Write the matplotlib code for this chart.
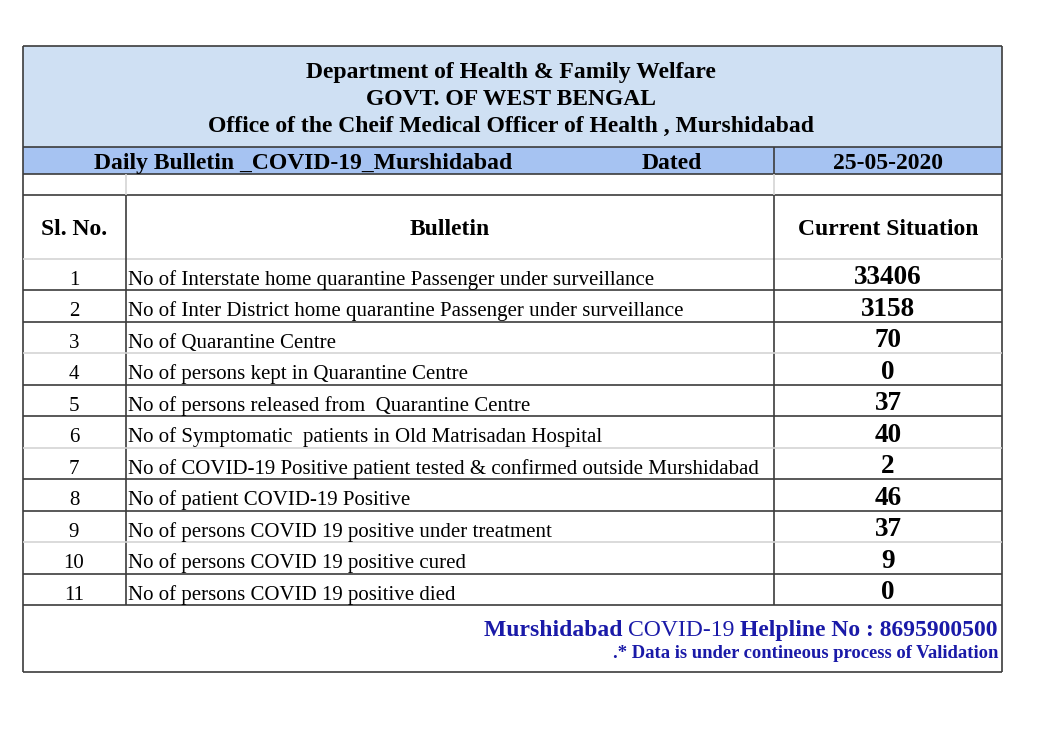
import matplotlib
matplotlib.use("Agg")
import matplotlib.pyplot as plt
from matplotlib.patches import Rectangle

plt.rcParams['font.family'] = ['Liberation Serif', 'DejaVu Serif']

title_lines = ["Department of Health & Family Welfare",
               "GOVT. OF WEST BENGAL",
               "Office of the Cheif Medical Officer of Health , Murshidabad"]
band_left = "Daily Bulletin _COVID-19_Murshidabad"
band_mid = "Dated"
band_date = "25-05-2020"
col_headers = ["Sl. No.", "Bulletin", "Current Situation"]

sl_no = [1, 2, 3, 4, 5, 6, 7, 8, 9, 10, 11]
bulletin = [
    "No of Interstate home quarantine Passenger under surveillance",
    "No of Inter District home quarantine Passenger under surveillance",
    "No of Quarantine Centre",
    "No of persons kept in Quarantine Centre",
    "No of persons released from  Quarantine Centre",
    "No of Symptomatic  patients in Old Matrisadan Hospital",
    "No of COVID-19 Positive patient tested & confirmed outside Murshidabad",
    "No of patient COVID-19 Positive",
    "No of persons COVID 19 positive under treatment",
    "No of persons COVID 19 positive cured",
    "No of persons COVID 19 positive died",
]
current = [33406, 3158, 70, 0, 37, 40, 2, 46, 37, 9, 0]

helpline = [("Murshidabad ", "bold"), ("COVID-19 ", "normal"),
            ("Helpline No : 8695900500", "bold")]
note = ".* Data is under contineous process of Validation"

W, H = 1047, 746
fig = plt.figure(figsize=(W / 100, H / 100), dpi=100)
ax = fig.add_axes([0, 0, 1, 1])
ax.set_xlim(0, W)
ax.set_ylim(H, 0)
ax.axis('off')

# layout (pixel coords)
x0, x1, x2, x3 = 23, 126, 774, 1002
y_top, y_band, y_blank, y_head, y_rows = 46, 147, 174, 195, 259
row_h = (605 - 259) / 11
y_foot = y_rows + row_h * len(sl_no)
y_bot = 672
dark = '#3c3c3c'
light = '#d4d4d4'
blue = '#1a1aa8'

ax.add_patch(Rectangle((x0, y_top), x3 - x0, y_band - y_top, fc='#cfe0f3', ec='none'))
ax.add_patch(Rectangle((x0, y_band), x3 - x0, y_blank - y_band, fc='#a6c3f2', ec='none'))

def hline(y, c=dark, lw=1.2, xa=x0, xb=x3):
    ax.plot([xa, xb], [y, y], color=c, lw=lw, solid_capstyle='butt')

def vline(x, ya, yb, c=dark, lw=1.2):
    ax.plot([x, x], [ya, yb], color=c, lw=lw, solid_capstyle='butt')

# outer border
hline(y_top)
hline(y_bot)
vline(x0, y_top, y_bot)
vline(x3, y_top, y_bot)
hline(y_band)
hline(y_blank)
hline(y_head)
hline(y_rows, c=light)
vline(x2, y_band, y_blank)
vline(x1, y_blank, y_head, c=light)
vline(x2, y_blank, y_head, c=light)
vline(x1, y_head, y_foot)
vline(x2, y_head, y_foot)
for i in range(1, len(sl_no) + 1):
    y = y_rows + row_h * i
    c = light if i % 3 == 0 and i < len(sl_no) else dark
    hline(y, c=c)

# title block
for i, t in enumerate(title_lines):
    ax.text(511, 78 + i * 27, t, ha='center', va='baseline', fontsize=17, fontweight='bold')
ax.text(303, 169, band_left, ha='center', va='baseline', fontsize=17, fontweight='bold')
ax.text(672, 169, band_mid, ha='center', va='baseline', fontsize=17, fontweight='bold')
ax.text(888, 169, band_date, ha='center', va='baseline', fontsize=17, fontweight='bold')

# column headers
hy = 235
ax.text((x0 + x1) / 2, hy, col_headers[0], ha='center', va='baseline', fontsize=17, fontweight='bold')
ax.text(450, hy, col_headers[1], ha='center', va='baseline', fontsize=17, fontweight='bold')
ax.text((x2 + x3) / 2, hy, col_headers[2], ha='center', va='baseline', fontsize=17, fontweight='bold')

# rows
for i, (n, b, v) in enumerate(zip(sl_no, bulletin, current)):
    yc = y_rows + row_h * i
    ax.text(74, yc + 26, str(n), ha='center', va='baseline', fontsize=15)
    ax.text(x1 + 2, yc + 26, b, ha='left', va='baseline', fontsize=15)
    ax.text(888, yc + 25.5, str(v), ha='center', va='baseline', fontsize=19.5, fontweight='bold')

# footer: right-aligned mixed-weight line
fig.canvas.draw()
rend = fig.canvas.get_renderer()
xr = 998
for txt, wt in reversed(helpline):
    t = ax.text(xr, 636, txt, ha='right', va='baseline', fontsize=17, fontweight=wt, color=blue)
    bb = t.get_window_extent(renderer=rend)
    xr -= bb.width
ax.text(998, 658, note, ha='right', va='baseline', fontsize=13.4, fontweight='bold', color=blue)

fig.savefig('out.png', dpi=100, facecolor='white')
